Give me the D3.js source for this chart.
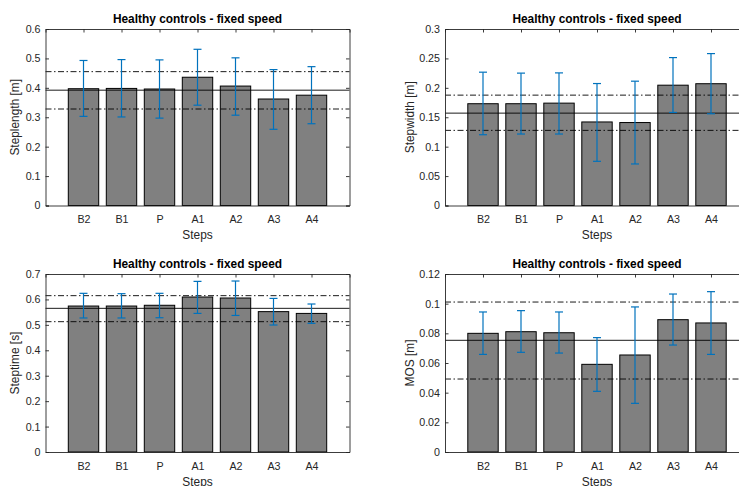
<!DOCTYPE html>
<html>
<head>
<meta charset="utf-8">
<script src="https://cdn.jsdelivr.net/npm/d3@7"></script>
<style>
  html, body { margin: 0; padding: 0; background: #fff; overflow: hidden; }
  svg { display: block; font-family: "Liberation Sans", Arial, Helvetica, sans-serif; }
</style>
</head>
<body>
<svg id="fig" width="739" height="486"></svg>
<script>
// Gait step categories
const categories = ["B2", "B1", "P", "A1", "A2", "A3", "A4"];
const titleText = "Healthy controls - fixed speed";
const xLabel = "Steps";

// Step length [m]
const stepLengthMean  = [0.397, 0.398, 0.396, 0.436, 0.406, 0.362, 0.375];
const stepLengthUpper = [0.493, 0.496, 0.495, 0.531, 0.502, 0.462, 0.472];
const stepLengthLower = [0.303, 0.301, 0.297, 0.341, 0.307, 0.259, 0.278];
const stepLengthRef   = [0.392, 0.455, 0.328]; // mean, mean+sd, mean-sd
const stepLengthTicks = [0, 0.1, 0.2, 0.3, 0.4, 0.5, 0.6];

// Step width [m]
const stepWidthMean  = [0.173, 0.173, 0.174, 0.142, 0.141, 0.2045, 0.207];
const stepWidthUpper = [0.2266, 0.225, 0.2254, 0.2073, 0.2113, 0.2514, 0.2582];
const stepWidthLower = [0.1203, 0.1215, 0.1215, 0.0751, 0.0706, 0.1582, 0.1559];
const stepWidthRef   = [0.157, 0.1876, 0.1277];
const stepWidthTicks = [0, 0.05, 0.1, 0.15, 0.2, 0.25, 0.3];

// Step time [s]
const stepTimeMean  = [0.574, 0.574, 0.577, 0.6095, 0.6056, 0.552, 0.545];
const stepTimeUpper = [0.624, 0.6226, 0.624, 0.671, 0.6724, 0.604, 0.582];
const stepTimeLower = [0.527, 0.527, 0.528, 0.545, 0.537, 0.4994, 0.506];
const stepTimeRef   = [0.565, 0.6148, 0.5125];
const stepTimeTicks = [0, 0.1, 0.2, 0.3, 0.4, 0.5, 0.6, 0.7];

// Margin of stability [m]
const mosMean  = [0.0800, 0.0811, 0.0804, 0.0591, 0.0654, 0.0892, 0.0870];
const mosUpper = [0.0944, 0.0953, 0.0944, 0.0771, 0.0978, 0.1065, 0.1081];
const mosLower = [0.0658, 0.0672, 0.0667, 0.0409, 0.0328, 0.0721, 0.0658];
const mosRef   = [0.0753, 0.1011, 0.0492];
const mosTicks = [0, 0.02, 0.04, 0.06, 0.08, 0.1, 0.12];

const panels = [
  { ylabel: "Steplength [m]", mean: stepLengthMean, upper: stepLengthUpper, lower: stepLengthLower,
    ref: stepLengthRef, ticks: stepLengthTicks, ymax: 0.6, col: 0, row: 0 },
  { ylabel: "Stepwidth [m]", mean: stepWidthMean, upper: stepWidthUpper, lower: stepWidthLower,
    ref: stepWidthRef, ticks: stepWidthTicks, ymax: 0.3, col: 1, row: 0 },
  { ylabel: "Steptime [s]", mean: stepTimeMean, upper: stepTimeUpper, lower: stepTimeLower,
    ref: stepTimeRef, ticks: stepTimeTicks, ymax: 0.7, col: 0, row: 1 },
  { ylabel: "MOS [m]", mean: mosMean, upper: mosUpper, lower: mosLower,
    ref: mosRef, ticks: mosTicks, ymax: 0.12, col: 1, row: 1 }
];

const colX = [45.5, 445];
const ylabelOffset = [26.5, 31];
const axW = 304;
const rowY = [[29, 205.5], [274, 452]];
const tickLen = 3.5;
const axisColor = "#262626";
const barFill = "#808080";
const errColor = "#0072BD";
const dashDot = "6,2.5,1.5,2.5";

const svg = d3.select("#fig");

panels.forEach(p => {
  const left = colX[p.col];
  const [top, bottom] = rowY[p.row];
  const x = d3.scaleLinear().domain([0, categories.length + 1]).range([left, left + axW]);
  const y = d3.scaleLinear().domain([0, p.ymax]).range([bottom, top]);
  const band = 0.8; // bar width in category units
  const g = svg.append("g");

  // bars
  g.selectAll("rect.bar").data(p.mean).join("rect")
    .attr("class", "bar")
    .attr("x", (d, i) => x(i + 1 - band / 2))
    .attr("width", x(band) - x(0))
    .attr("y", d => y(d))
    .attr("height", d => y(0) - y(d))
    .attr("fill", barFill)
    .attr("stroke", "#000")
    .attr("stroke-width", 1);

  // reference lines: mean (solid) and mean ± sd (dash-dot)
  p.ref.forEach((v, k) => {
    g.append("line")
      .attr("x1", left).attr("x2", left + axW)
      .attr("y1", y(v)).attr("y2", y(v))
      .attr("stroke", "#000")
      .attr("stroke-width", 0.9)
      .attr("stroke-dasharray", k === 0 ? null : dashDot);
  });

  // error bars
  const cap = 4;
  const eb = g.selectAll("g.err").data(categories).join("g").attr("class", "err");
  eb.append("line")
    .attr("x1", (d, i) => x(i + 1)).attr("x2", (d, i) => x(i + 1))
    .attr("y1", (d, i) => y(p.upper[i])).attr("y2", (d, i) => y(p.lower[i]))
    .attr("stroke", errColor).attr("stroke-width", 1.2);
  eb.append("line")
    .attr("x1", (d, i) => x(i + 1) - cap).attr("x2", (d, i) => x(i + 1) + cap)
    .attr("y1", (d, i) => y(p.upper[i])).attr("y2", (d, i) => y(p.upper[i]))
    .attr("stroke", errColor).attr("stroke-width", 1.2);
  eb.append("line")
    .attr("x1", (d, i) => x(i + 1) - cap).attr("x2", (d, i) => x(i + 1) + cap)
    .attr("y1", (d, i) => y(p.lower[i])).attr("y2", (d, i) => y(p.lower[i]))
    .attr("stroke", errColor).attr("stroke-width", 1.2);

  // axes box
  const catTicks = categories.map((c, i) => i + 1);
  const yAxisL = d3.axisLeft(y).tickValues(p.ticks).tickSize(-tickLen).tickPadding(5)
    .tickFormat(d => d3.format("~g")(d));
  const yAxisR = d3.axisRight(y).tickValues(p.ticks).tickSize(-tickLen).tickFormat("");
  const xAxisB = d3.axisBottom(x).tickValues(catTicks).tickSize(0).tickPadding(10)
    .tickFormat(d => categories[d - 1]);
  const xAxisT = d3.axisTop(x).tickValues(catTicks).tickSize(-tickLen).tickFormat("");

  const styleAxis = sel => {
    sel.selectAll(".domain").attr("stroke", axisColor).attr("stroke-width", 0.9);
    sel.selectAll(".tick line").attr("stroke", axisColor).attr("stroke-width", 0.9);
    sel.selectAll(".tick text").attr("fill", axisColor)
      .style("font-size", "10.7px")
      .style("font-family", "'Liberation Sans', Arial, Helvetica, sans-serif");
  };

  g.append("g").attr("transform", `translate(${left},0)`).call(yAxisL).call(styleAxis);
  g.append("g").attr("transform", `translate(${left + axW},0)`).call(yAxisR).call(styleAxis);
  g.append("g").attr("transform", `translate(0,${bottom})`).call(xAxisB).call(styleAxis);
  g.append("g").attr("transform", `translate(0,${top})`).call(xAxisT).call(styleAxis);

  // title
  g.append("text")
    .attr("x", left + axW / 2).attr("y", top - 6)
    .attr("text-anchor", "middle")
    .attr("font-weight", "bold")
    .attr("font-size", "11.9px")
    .attr("fill", "#000")
    .text(titleText);

  // x label
  g.append("text")
    .attr("x", left + axW / 2).attr("y", bottom + 33.5)
    .attr("text-anchor", "middle")
    .attr("font-size", "11.9px")
    .attr("fill", axisColor)
    .text(xLabel);

  // y label
  g.append("text")
    .attr("transform", `translate(${left - ylabelOffset[p.col]},${(top + bottom) / 2}) rotate(-90)`)
    .attr("text-anchor", "middle")
    .attr("font-size", "11.9px")
    .attr("fill", axisColor)
    .text(p.ylabel);
});
</script>
</body>
</html>
